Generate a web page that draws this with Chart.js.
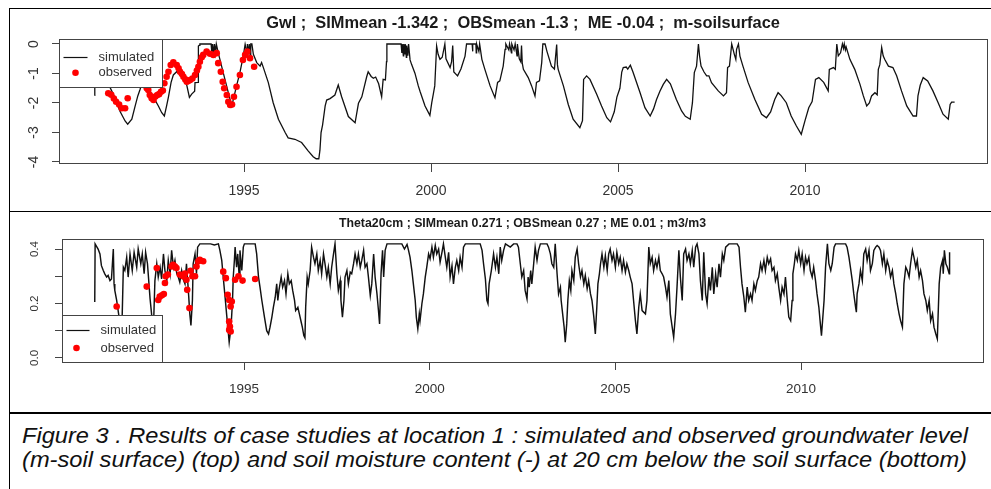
<!DOCTYPE html>
<html>
<head>
<meta charset="utf-8">
<script src="https://cdn.jsdelivr.net/npm/chart.js@4.4.1/dist/chart.umd.min.js"></script>
<style>
html,body{margin:0;padding:0;background:#fff;}
body{width:991px;height:489px;position:relative;overflow:hidden;font-family:"Liberation Sans",Arial,Helvetica,sans-serif;}
.hl{position:absolute;background:#000;}
.wrap{position:absolute;}
#caption{position:absolute;left:22px;top:424px;font-style:italic;font-size:22px;line-height:24px;color:#111;white-space:nowrap;}
#caption div{width:max-content;transform-origin:0 0;}
</style>
</head>
<body>
<div class="hl" style="left:9px;top:8px;width:982px;height:1px"></div>
<div class="hl" style="left:9px;top:8px;width:1px;height:481px"></div>
<div class="hl" style="left:9px;top:211px;width:982px;height:1px"></div>
<div class="hl" style="left:9px;top:412px;width:982px;height:2px"></div>
<div class="wrap" style="left:10px;top:9px;width:981px;height:201px"><canvas id="c1"></canvas></div>
<div class="wrap" style="left:10px;top:212px;width:981px;height:199px"><canvas id="c2"></canvas></div>
<div id="caption">
<div id="cap1">Figure 3 . Results of case studies at location 1 : simulated and observed groundwater level</div>
<div id="cap2">(m-soil surface) (top) and soil moisture content (-) at 20 cm below the soil surface (bottom)</div>
</div>
<script>
// ---------------- DATA ----------------
const gwlTitle = "Gwl ;  SIMmean -1.342 ;  OBSmean -1.3 ;  ME -0.04 ;  m-soilsurface";
const thetaTitle = "Theta20cm ; SIMmean 0.271 ; OBSmean 0.27 ; ME 0.01 ; m3/m3";
const legendLabels = ["simulated", "observed"];
const yearTicks = [1995, 2000, 2005, 2010];
const gwlTicks = [-4, -3, -2, -1, 0];
const thetaTicks = [0, 0.1, 0.2, 0.3, 0.4];

const gwlSimYear = [
1991.00,1991.01,1991.10,1991.25,1991.42,1991.55,1991.68,1991.82,1991.89,1992.00,
1992.09,1992.16,1992.22,1992.30,1992.40,1992.49,1992.60,1992.71,1992.80,1992.87,
1992.93,1992.98,1993.05,1993.11,1993.20,1993.30,1993.40,1993.47,1993.54,1993.60,
1993.68,1993.69,1993.77,1993.78,1993.80,1993.82,1994.12,1994.14,1994.16,1994.19,
1994.21,1994.24,1994.26,1994.31,1994.40,1994.49,1994.58,1994.67,1994.72,1994.80,
1994.89,1994.98,1995.03,1995.08,1995.09,1995.13,1995.14,1995.17,1995.18,1995.21,
1995.25,1995.34,1995.43,1995.47,1995.52,1995.65,1995.78,1995.92,1996.10,1996.18,
1996.36,1996.54,1996.72,1996.85,1996.93,1997.00,1997.03,1997.06,1997.10,1997.17,
1997.21,1997.30,1997.43,1997.52,1997.61,1997.79,1997.97,1998.06,1998.15,1998.28,
1998.32,1998.40,1998.46,1998.52,1998.60,1998.68,1998.72,1998.78,1998.81,1998.82,
1999.20,1999.22,1999.23,1999.26,1999.27,1999.30,1999.31,1999.34,1999.35,1999.38,
1999.40,1999.44,1999.48,1999.57,1999.66,1999.71,1999.84,1999.97,2000.02,2000.06,
2000.10,2000.15,2000.19,2000.24,2000.30,2000.37,2000.40,2000.51,2000.55,2000.58,
2000.61,2000.71,2000.80,2000.91,2000.95,2001.10,2001.11,2001.12,2001.20,2001.21,
2001.22,2001.28,2001.30,2001.36,2001.44,2001.58,2001.71,2001.78,2001.84,2001.93,
2001.98,2002.00,2002.08,2002.10,2002.15,2002.16,2002.22,2002.25,2002.30,2002.31,
2002.34,2002.36,2002.40,2002.42,2002.44,2002.47,2002.60,2002.69,2002.78,2002.82,
2002.90,2002.96,2002.99,2003.05,2003.10,2003.22,2003.30,2003.36,2003.38,2003.40,
2003.54,2003.67,2003.80,2003.98,2004.05,2004.08,2004.16,2004.25,2004.43,2004.56,
2004.70,2004.80,2004.90,2004.97,2005.05,2005.10,2005.14,2005.22,2005.26,2005.33,
2005.40,2005.59,2005.72,2005.86,2005.95,2006.03,2006.12,2006.21,2006.30,2006.40,
2006.56,2006.70,2006.80,2006.93,2006.99,2007.04,2007.10,2007.15,2007.18,2007.22,
2007.30,2007.37,2007.43,2007.50,2007.68,2007.82,2007.90,2007.93,2007.98,2008.04,
2008.11,2008.15,2008.17,2008.22,2008.26,2008.34,2008.48,2008.66,2008.84,2008.97,
2009.08,2009.19,2009.28,2009.36,2009.50,2009.63,2009.77,2009.90,2010.00,2010.10,
2010.19,2010.28,2010.37,2010.50,2010.62,2010.65,2010.76,2010.81,2010.85,2010.89,
2010.95,2011.00,2011.03,2011.05,2011.08,2011.10,2011.20,2011.33,2011.47,2011.56,
2011.65,2011.72,2011.78,2011.87,2011.93,2011.96,2012.00,2012.05,2012.09,2012.13,
2012.23,2012.35,2012.45,2012.58,2012.72,2012.89,2012.98,2013.02,2013.08,2013.16,
2013.28,2013.42,2013.56,2013.69,2013.83,2013.88,2013.92,2014.00];
const gwlSimValue = [
-1.74,-1.20,-1.00,-1.15,-1.48,-1.82,-2.27,-2.61,-2.72,-2.55,
-2.10,-1.76,-1.54,-1.20,-1.35,-1.60,-1.85,-2.10,-2.33,-2.44,
-2.10,-1.79,-1.30,-1.05,-0.94,-1.05,-1.20,-1.40,-1.81,-1.70,
-1.60,-1.31,-1.30,-0.07,-0.05,0,0,-0.30,0,-0.35,
0,-0.30,0,-0.29,-0.75,-1.20,-1.65,-2.10,-1.85,-1.42,
-0.97,-0.41,-0.01,-0.30,0,-0.35,0,-0.40,0,0,
-0.35,-0.63,-0.75,-0.63,-0.81,-1.31,-1.99,-2.55,-3.00,-3.18,
-3.23,-3.34,-3.63,-3.82,-3.89,-3.89,-3.60,-3.00,-2.75,-2.10,
-1.90,-1.85,-1.73,-1.39,-1.79,-2.46,-2.67,-2.01,-1.79,-1.11,
-0.94,-1.10,-1.16,-1.12,-1.35,-1.79,-1.20,-1.22,-0.60,0,
0,-0.30,0,-0.40,0,-0.35,0,-0.45,-0.05,-0.40,
0,-0.54,-0.69,-0.99,-1.42,-1.62,-2.10,-2.42,-1.99,-1.71,
-1.42,-0.07,-0.35,-0.52,-0.45,0,-0.50,-0.80,-0.60,-0.05,
-0.95,-1.08,-0.85,-0.41,0,0,-0.25,0,0,-0.30,
0,-0.25,0,-0.52,-0.86,-1.42,-1.82,-1.30,-1.25,-0.75,
-0.18,0,-0.20,0,-0.30,0,-0.20,0,-0.40,0,
-0.30,-0.50,-0.60,-0.05,-0.65,-0.86,-1.14,-1.42,-1.76,-1.30,
-1.25,-0.63,0,0,-0.25,-0.75,-0.85,-0.02,-0.70,-0.86,
-1.42,-2.05,-2.55,-2.84,-2.60,-1.20,-1.08,-1.20,-1.70,-2.10,
-2.50,-2.64,-2.30,-1.80,-1.50,-0.95,-0.80,-0.78,-0.85,-0.72,
-0.95,-1.65,-2.16,-2.44,-2.20,-1.88,-1.60,-1.37,-1.20,-1.35,
-1.88,-2.27,-2.45,-2.55,-1.99,-0.97,-0.75,0,-0.40,-0.75,
-0.95,-1.08,-1.08,-1.31,-1.59,-1.76,-1.65,-0.80,-0.75,0,
-0.35,-0.52,-0.18,0,-0.41,-0.75,-1.31,-1.88,-2.38,-2.50,
-2.30,-1.88,-1.65,-1.75,-1.99,-2.44,-2.78,-3.06,-2.60,-2.16,
-1.95,-1.20,-1.14,-1.30,-1.59,-0.86,-0.80,-0.86,0,-0.40,
-0.30,0,-0.15,0,-0.20,-0.10,-0.52,-0.86,-1.37,-1.76,
-2.10,-2.00,-1.76,-1.65,-1.72,-0.86,-0.70,-0.12,-0.40,-0.52,
-0.75,-0.80,-1.08,-1.59,-2.10,-2.44,-2.44,-1.76,-1.40,-1.14,
-1.25,-1.59,-1.99,-2.38,-2.55,-2.05,-1.97,-1.97];

const gwlObsYear = [
1991.37,1991.45,1991.52,1991.58,1991.66,1991.73,1991.82,1991.89,1992.40,1992.44,
1992.48,1992.53,1992.58,1992.63,1992.68,1992.73,1992.78,1992.83,1992.87,1992.93,
1992.98,1993.04,1993.11,1993.20,1993.25,1993.29,1993.34,1993.38,1993.43,1993.47,
1993.52,1993.56,1993.62,1993.69,1993.74,1993.78,1993.82,1993.87,1993.91,1994.00,
1994.09,1994.18,1994.27,1994.31,1994.38,1994.43,1994.47,1994.54,1994.58,1994.63,
1994.68,1994.73,1994.80,1994.89,1994.97,1995.03,1995.09,1995.16,1995.27];
const gwlObsValue = [
-1.67,-1.72,-1.85,-1.96,-2.05,-2.18,-2.18,-1.84,-1.50,-1.56,
-1.73,-1.84,-1.90,-1.78,-1.73,-1.70,-1.62,-1.58,-1.33,-1.11,
-0.94,-0.71,-0.62,-0.71,-0.82,-0.94,-1.02,-1.11,-1.20,-1.28,
-1.25,-1.22,-1.17,-1.05,-0.90,-0.77,-0.60,-0.45,-0.37,-0.26,
-0.33,-0.37,-0.31,-0.65,-0.94,-1.28,-1.50,-1.73,-1.96,-2.07,
-2.05,-1.79,-1.45,-1.05,-0.54,-0.37,-0.26,-0.48,-0.77];

const thetaSimYear = [
1990.98,1990.99,1991.07,1991.12,1991.16,1991.21,1991.25,1991.30,1991.34,1991.39,
1991.43,1991.48,1991.50,1991.52,1991.57,1991.61,1991.66,1991.68,1991.72,1991.75,
1991.79,1991.84,1991.88,1991.93,1991.99,1992.04,1992.11,1992.15,1992.22,1992.26,
1992.31,1992.35,1992.40,1992.44,1992.47,1992.51,1992.54,1992.57,1992.60,1992.65,
1992.69,1992.74,1992.78,1992.83,1992.87,1992.92,1992.96,1993.01,1993.05,1993.10,
1993.14,1993.19,1993.23,1993.27,1993.32,1993.36,1993.41,1993.45,1993.50,1993.54,
1993.57,1993.61,1993.63,1993.68,1993.72,1993.75,1993.81,1994.10,1994.20,1994.31,
1994.35,1994.40,1994.44,1994.49,1994.53,1994.58,1994.60,1994.65,1994.69,1994.71,
1994.74,1994.76,1994.80,1994.83,1994.87,1994.89,1994.94,1994.98,1995.01,1995.30,
1995.34,1995.39,1995.43,1995.48,1995.55,1995.61,1995.66,1995.70,1995.75,1995.79,
1995.84,1995.88,1995.91,1995.94,1996.00,1996.04,1996.09,1996.13,1996.18,1996.22,
1996.27,1996.31,1996.36,1996.39,1996.45,1996.49,1996.54,1996.57,1996.61,1996.64,
1996.66,1996.70,1996.73,1996.78,1996.82,1996.87,1996.91,1996.96,1997.00,1997.05,
1997.09,1997.14,1997.18,1997.23,1997.27,1997.32,1997.36,1997.41,1997.45,1997.50,
1997.54,1997.59,1997.61,1997.65,1997.69,1997.72,1997.77,1997.81,1997.86,1997.90,
1997.95,1997.99,1998.04,1998.08,1998.13,1998.17,1998.22,1998.26,1998.31,1998.35,
1998.40,1998.44,1998.49,1998.53,1998.58,1998.62,1998.65,1998.69,1998.73,1998.76,
1998.80,1998.85,1999.25,1999.32,1999.39,1999.43,1999.47,1999.52,1999.56,1999.61,
1999.64,1999.68,1999.72,1999.74,1999.79,1999.83,1999.88,1999.92,1999.97,2000.01,
2000.06,2000.10,2000.15,2000.19,2000.24,2000.28,2000.33,2000.37,2000.42,2000.46,
2000.51,2000.55,2000.60,2000.64,2000.69,2000.73,2000.78,2000.82,2000.87,2000.91,
2000.96,2001.36,2001.41,2001.45,2001.50,2001.54,2001.57,2001.60,2001.66,2001.72,
2001.77,2001.81,2001.86,2001.90,2001.94,2001.99,2002.04,2002.17,2002.26,2002.35,
2002.39,2002.44,2002.48,2002.53,2002.57,2002.62,2002.65,2002.68,2002.72,2002.75,
2002.80,2002.84,2002.89,2002.93,2002.98,2003.16,2003.20,2003.25,2003.29,2003.34,
2003.38,2003.43,2003.47,2003.52,2003.54,2003.58,2003.62,2003.65,2003.69,2003.72,
2003.76,2003.80,2003.83,2003.88,2003.92,2003.97,2004.01,2004.06,2004.10,2004.15,
2004.19,2004.24,2004.28,2004.33,2004.37,2004.42,2004.46,2004.50,2004.53,2004.57,
2004.60,2004.64,2004.69,2004.73,2004.78,2004.82,2004.86,2004.91,2004.95,2005.00,
2005.04,2005.09,2005.13,2005.18,2005.22,2005.27,2005.31,2005.36,2005.40,2005.45,
2005.49,2005.54,2005.58,2005.63,2005.67,2005.72,2005.81,2005.85,2005.90,2005.94,
2005.99,2006.03,2006.08,2006.12,2006.17,2006.21,2006.26,2006.30,2006.35,2006.39,
2006.44,2006.48,2006.53,2006.57,2006.62,2006.66,2006.71,2006.75,2006.80,2006.84,
2006.89,2006.93,2006.98,2007.02,2007.07,2007.11,2007.16,2007.20,2007.25,2007.29,
2007.34,2007.38,2007.43,2007.47,2007.52,2007.56,2007.61,2007.65,2007.70,2007.74,
2007.79,2007.83,2007.88,2007.92,2007.97,2008.06,2008.28,2008.33,2008.37,2008.41,
2008.46,2008.50,2008.55,2008.59,2008.64,2008.68,2008.73,2008.77,2008.82,2008.86,
2008.91,2008.95,2009.00,2009.04,2009.09,2009.13,2009.18,2009.22,2009.27,2009.31,
2009.36,2009.40,2009.45,2009.49,2009.54,2009.58,2009.63,2009.67,2009.72,2009.76,
2009.78,2009.82,2009.85,2009.90,2009.94,2009.99,2010.03,2010.08,2010.12,2010.16,
2010.21,2010.25,2010.30,2010.34,2010.39,2010.43,2010.48,2010.52,2010.55,2010.58,
2010.62,2010.66,2010.71,2010.75,2010.80,2010.84,2010.89,2010.93,2011.20,2011.24,
2011.29,2011.33,2011.38,2011.42,2011.47,2011.49,2011.51,2011.56,2011.60,2011.65,
2011.69,2011.74,2011.78,2011.83,2011.87,2011.92,2011.96,2012.01,2012.05,2012.10,
2012.14,2012.19,2012.23,2012.28,2012.32,2012.37,2012.41,2012.46,2012.50,2012.55,
2012.59,2012.64,2012.68,2012.73,2012.77,2012.82,2012.86,2012.91,2012.95,2013.00,
2013.04,2013.09,2013.13,2013.18,2013.22,2013.27,2013.31,2013.36,2013.40,2013.45,
2013.49,2013.54,2013.58,2013.63,2013.67,2013.72,2013.76,2013.81,2013.83,2013.86,
2013.90,2013.94,2013.99,2014.00];
const thetaSimValue = [
0.205,0.419,0.40,0.382,0.339,0.321,0.309,0.297,0.303,0.284,
0.29,0.40,0.272,0.248,0.211,0.174,0.125,0.088,0.16,0.333,
0.321,0.37,0.297,0.382,0.321,0.388,0.333,0.40,0.346,0.382,
0.309,0.388,0.346,0.272,0.217,0.162,0.088,0.15,0.284,0.346,
0.297,0.333,0.29,0.382,0.321,0.284,0.358,0.309,0.395,0.333,
0.358,0.309,0.297,0.278,0.321,0.29,0.272,0.346,0.248,0.162,
0.119,0.211,0.346,0.382,0.309,0.407,0.419,0.419,0.415,0.419,
0.395,0.358,0.297,0.223,0.162,0.088,0.058,0.113,0.211,0.297,
0.358,0.407,0.333,0.382,0.297,0.395,0.321,0.407,0.419,0.419,
0.382,0.297,0.26,0.211,0.15,0.10,0.088,0.113,0.15,0.186,
0.223,0.272,0.211,0.248,0.297,0.26,0.284,0.235,0.309,0.272,
0.284,0.248,0.211,0.174,0.186,0.162,0.131,0.113,0.082,0.074,
0.186,0.297,0.272,0.321,0.407,0.37,0.346,0.382,0.321,0.358,
0.309,0.382,0.346,0.297,0.333,0.272,0.333,0.382,0.419,0.309,
0.248,0.284,0.211,0.15,0.211,0.297,0.321,0.272,0.315,0.309,
0.346,0.382,0.346,0.382,0.333,0.358,0.395,0.333,0.346,0.297,
0.229,0.272,0.382,0.297,0.235,0.174,0.125,0.309,0.395,0.297,
0.395,0.419,0.419,0.40,0.417,0.395,0.37,0.321,0.272,0.211,
0.15,0.107,0.162,0.137,0.199,0.235,0.297,0.333,0.382,0.364,
0.407,0.37,0.413,0.382,0.40,0.352,0.388,0.419,0.37,0.333,
0.388,0.297,0.339,0.272,0.333,0.358,0.321,0.37,0.333,0.407,
0.419,0.419,0.395,0.346,0.29,0.211,0.199,0.272,0.321,0.382,
0.333,0.37,0.309,0.407,0.358,0.395,0.419,0.407,0.419,0.419,
0.407,0.346,0.297,0.321,0.248,0.217,0.297,0.26,0.321,0.272,
0.346,0.407,0.358,0.395,0.419,0.419,0.407,0.382,0.346,0.333,
0.419,0.309,0.235,0.26,0.211,0.162,0.113,0.058,0.125,0.211,
0.284,0.248,0.321,0.284,0.37,0.40,0.346,0.297,0.321,0.272,
0.303,0.254,0.284,0.235,0.211,0.15,0.088,0.186,0.272,0.309,
0.346,0.382,0.333,0.376,0.321,0.382,0.40,0.358,0.382,0.333,
0.388,0.346,0.37,0.321,0.358,0.315,0.346,0.321,0.297,0.272,
0.211,0.137,0.088,0.186,0.235,0.174,0.162,0.211,0.407,0.346,
0.37,0.321,0.358,0.333,0.37,0.321,0.309,0.297,0.26,0.223,
0.284,0.162,0.113,0.076,0.162,0.26,0.395,0.297,0.211,0.382,
0.40,0.358,0.382,0.346,0.395,0.333,0.407,0.419,0.382,0.284,
0.211,0.388,0.235,0.199,0.297,0.248,0.333,0.235,0.309,0.26,
0.346,0.297,0.382,0.358,0.407,0.419,0.419,0.407,0.333,0.272,
0.223,0.168,0.26,0.211,0.235,0.211,0.272,0.248,0.284,0.297,
0.346,0.321,0.358,0.321,0.37,0.346,0.364,0.321,0.333,0.284,
0.309,0.26,0.211,0.26,0.235,0.297,0.211,0.15,0.137,0.211,
0.309,0.346,0.382,0.358,0.395,0.346,0.382,0.321,0.37,0.346,
0.37,0.321,0.297,0.333,0.284,0.235,0.186,0.125,0.082,0.137,
0.211,0.333,0.419,0.346,0.321,0.346,0.407,0.419,0.419,0.407,
0.37,0.333,0.284,0.235,0.186,0.168,0.235,0.272,0.321,0.284,
0.382,0.40,0.358,0.395,0.321,0.346,0.395,0.407,0.413,0.407,
0.395,0.346,0.382,0.321,0.358,0.333,0.297,0.321,0.272,0.235,
0.199,0.162,0.137,0.113,0.272,0.333,0.321,0.297,0.346,0.395,
0.37,0.333,0.358,0.297,0.321,0.284,0.235,0.211,0.174,0.211,
0.137,0.162,0.113,0.088,0.07,0.272,0.333,0.358,0.309,0.395,
0.346,0.333,0.309,0.388];

const thetaObsYear = [
1991.57,1992.38,1992.65,1992.69,1992.73,1992.79,1992.84,1992.87,1992.89,1992.95,
1993.05,1993.09,1993.14,1993.18,1993.27,1993.36,1993.41,1993.45,1993.47,1993.53,
1993.56,1993.61,1993.68,1993.72,1993.77,1993.81,1993.90,1994.44,1994.51,1994.56,
1994.60,1994.67,1994.64,1994.60,1994.62,1994.60,1994.64,1994.76,1994.85,1994.96,
1995.30];
const thetaObsValue = [
0.189,0.262,0.33,0.213,0.225,0.23,0.235,0.275,0.30,0.306,
0.336,0.342,0.336,0.33,0.306,0.30,0.31,0.287,0.25,0.183,
0.32,0.30,0.30,0.336,0.355,0.36,0.355,0.317,0.293,0.232,
0.213,0.207,0.189,0.134,0.115,0.103,0.097,0.287,0.30,0.284,
0.29];

// ---------------- CHARTS ----------------
const fontFam = '"Liberation Sans", Arial, Helvetica, sans-serif';
Chart.defaults.font.family = fontFam;

const pairs = (xs, ys) => xs.map((x, i) => ({x: x, y: ys[i]}));

const rBox = {
  id: 'rbox',
  afterDatasetsDraw(chart, args, o) {
    const ctx = chart.ctx, a = chart.chartArea;
    ctx.save();
    ctx.strokeStyle = o.boxColor;
    ctx.lineWidth = 1;
    const L0 = Math.round(a.left) + 0.5, T0 = Math.round(a.top) + 0.5;
    const R0 = Math.round(a.right) + 0.5, B0 = Math.round(a.bottom) + 0.5;
    ctx.strokeRect(L0, T0, R0 - L0, B0 - T0);
    const L = o.legend;
    const lx = L0;
    const ly = L.corner === 'top' ? T0 : B0 - L.h;
    ctx.fillStyle = '#fff';
    ctx.fillRect(lx, ly, L.w, L.h);
    ctx.strokeRect(lx, ly, L.w, L.h);
    const ds = chart.data.datasets;
    ctx.beginPath();
    ctx.strokeStyle = ds[0].borderColor;
    ctx.lineWidth = 1.2;
    ctx.moveTo(lx + L.lineX0, ly + L.row1);
    ctx.lineTo(lx + L.lineX1, ly + L.row1);
    ctx.stroke();
    ctx.beginPath();
    ctx.fillStyle = ds[1].pointBackgroundColor;
    ctx.arc(lx + L.dotX, ly + L.row2, ds[1].pointRadius, 0, Math.PI * 2);
    ctx.fill();
    ctx.font = L.fontSize + 'px ' + fontFam;
    ctx.textBaseline = 'middle';
    ctx.textAlign = 'left';
    ctx.fillStyle = L.textColor;
    ctx.fillText(ds[0].label, lx + L.textX, ly + L.row1);
    ctx.fillText(ds[1].label, lx + L.textX, ly + L.row2);
    ctx.restore();
  }
};

function makeChart(id, p) {
  return new Chart(document.getElementById(id), {
    type: 'line',
    data: {
      datasets: [
        { label: legendLabels[0], data: pairs(p.simX, p.simY), borderColor: '#111', borderWidth: p.lineW,
          pointRadius: 0, fill: false, tension: 0, order: 1 },
        { label: legendLabels[1], data: pairs(p.obsX, p.obsY), showLine: false, pointRadius: 3.3,
          pointBackgroundColor: '#ff0000', pointBorderWidth: 0, borderColor: '#ff0000', order: 0 }
      ]
    },
    options: {
      responsive: true, maintainAspectRatio: false, animation: false,
      layout: { padding: { left: 0, right: p.padRight, top: 0, bottom: 0 } },
      plugins: {
        legend: { display: false },
        tooltip: { enabled: false },
        title: { display: true, text: p.title, fullSize: false, color: '#1a1a1a',
                 font: { family: fontFam, size: p.titleSize, weight: 'bold' },
                 padding: { top: p.titlePadTop, bottom: p.titlePadBottom } },
        rbox: { boxColor: '#444', legend: p.legend }
      },
      scales: {
        x: {
          type: 'linear', min: p.xmin, max: p.xmax,
          afterBuildTicks: s => { s.ticks = yearTicks.map(v => ({ value: v })); },
          afterFit: s => { s.height = p.xAxisH; },
          border: { display: false },
          grid: { display: true, drawOnChartArea: false, drawTicks: true, tickLength: p.xTickLen, color: '#444', lineWidth: 1 },
          ticks: { autoSkip: false, maxRotation: 0, padding: p.xLabelPad, color: '#333',
                   font: { family: fontFam, size: p.xFont }, callback: v => String(v) }
        },
        y: {
          type: 'linear', min: p.ymin, max: p.ymax,
          afterBuildTicks: s => { s.ticks = p.yTicks.map(v => ({ value: v })); },
          afterFit: s => { s.width = p.yAxisW; },
          border: { display: false },
          grid: { display: true, drawOnChartArea: false, drawTicks: true, tickLength: 7, color: '#444', lineWidth: 1 },
          ticks: { autoSkip: false, minRotation: 90, maxRotation: 90, crossAlign: 'center', padding: p.yLabelPad,
                   color: '#333', font: { family: fontFam, size: p.yFont }, callback: p.yFmt }
        }
      }
    },
    plugins: [rBox]
  });
}

makeChart('c1', {
  simX: gwlSimYear, simY: gwlSimValue, obsX: gwlObsYear, obsY: gwlObsValue, lineW: 1.3,
  title: gwlTitle, titleSize: 16.4, titlePadTop: 4.6, titlePadBottom: 5.7,
  padRight: 4, xmin: 1990.053, xmax: 2014.866, ymin: -4.034, ymax: 0.17,
  xAxisH: 47, xTickLen: 9, xLabelPad: 11, xFont: 14,
  yAxisW: 49, yLabelPad: 12, yFont: 14, yTicks: gwlTicks, yFmt: v => String(v),
  legend: { corner: 'top', w: 103, h: 48, lineX0: 4, lineX1: 28, row1: 18, row2: 33.3, dotX: 16, textX: 39, fontSize: 13, textColor: '#333' }
});

makeChart('c2', {
  simX: thetaSimYear, simY: thetaSimValue, obsX: thetaObsYear, obsY: thetaObsValue, lineW: 1.45,
  title: thetaTitle, titleSize: 12.3, titlePadTop: 3.9, titlePadBottom: 8.3,
  padRight: 8, xmin: 1990.098, xmax: 2014.9, ymin: -0.015, ymax: 0.437,
  xAxisH: 49, xTickLen: 8, xLabelPad: 11, xFont: 13.5,
  yAxisW: 52, yLabelPad: 12, yFont: 11.5, yTicks: thetaTicks,
  yFmt: v => (Math.round(v * 10) % 2 === 0 ? v.toFixed(1) : ''),
  legend: { corner: 'bottom', w: 100, h: 47, lineX0: 4, lineX1: 27, row1: 15, row2: 32.5, dotX: 14, textX: 38, fontSize: 13, textColor: '#333' }
});

// caption lines stretched to the reference width
const capWidths = { cap1: 946, cap2: 945 };
for (const id in capWidths) {
  const el = document.getElementById(id);
  const w = el.getBoundingClientRect().width;
  if (w > 0) el.style.transform = 'scaleX(' + (capWidths[id] / w) + ')';
}
</script>
</body>
</html>
